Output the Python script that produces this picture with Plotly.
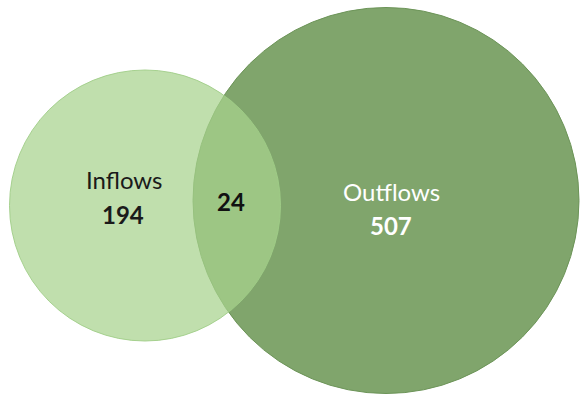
import plotly.graph_objects as go

# ---- data ----
set_labels = ["Inflows", "Outflows"]
only_counts = [194, 507]
overlap_count = 24

# ---- layout (pixel-space geometry) ----
W, H = 581, 396
centers = [(145, 205.5), (386, 200.5)]
radii = [135.5, 193]
fills = ["rgba(168,211,141,0.72)", "rgb(128,165,108)"]
lines = ["rgba(160,205,135,0.9)", "rgb(108,148,88)"]
draw_order = [1, 0]

fig = go.Figure()
for i in draw_order:
    cx, cy = centers[i]
    r = radii[i]
    fig.add_shape(type="circle", xref="x", yref="y",
                  x0=cx - r, x1=cx + r, y0=cy - r, y1=cy + r,
                  fillcolor=fills[i], line=dict(color=lines[i], width=1),
                  layer="above")

font_family = "Lato, 'Open Sans', sans-serif"
label_pos = [(123.5, 179), (391.5, 191)]
count_pos = [(123, 214), (391, 225)]
text_colors = ["#1a1a1a", "#ffffff"]
for i in range(2):
    fig.add_annotation(x=label_pos[i][0], y=label_pos[i][1], text=set_labels[i],
                       showarrow=False, xanchor="center", yanchor="middle",
                       font=dict(family=font_family, size=24, color=text_colors[i]))
    fig.add_annotation(x=count_pos[i][0], y=count_pos[i][1], text="<b>%d</b>" % only_counts[i],
                       showarrow=False, xanchor="center", yanchor="middle",
                       font=dict(family=font_family, size=24, color=text_colors[i]))
fig.add_annotation(x=231, y=201, text="<b>%d</b>" % overlap_count,
                   showarrow=False, xanchor="center", yanchor="middle",
                   font=dict(family=font_family, size=24, color="#111111"))

fig.update_xaxes(range=[0, W], visible=False, fixedrange=True)
fig.update_yaxes(range=[H, 0], visible=False, fixedrange=True)
fig.update_layout(width=W, height=H, margin=dict(l=0, r=0, t=0, b=0),
                  paper_bgcolor="white", plot_bgcolor="white", showlegend=False)
fig.write_html("out.html", config={"displayModeBar": False})
